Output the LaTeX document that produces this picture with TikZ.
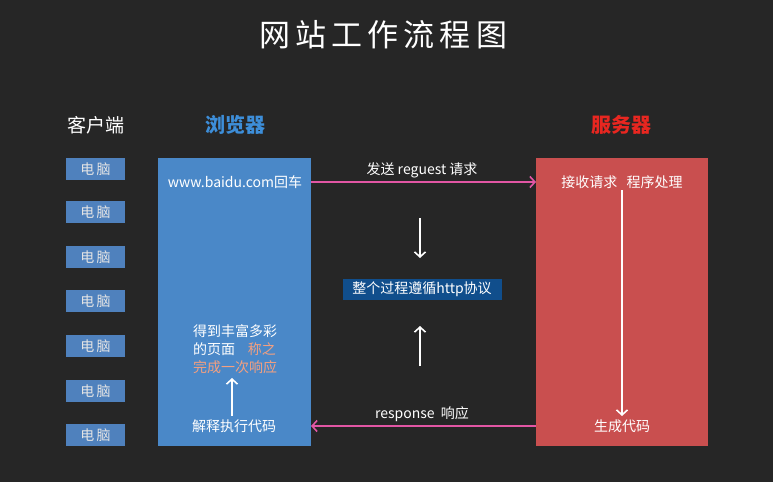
\documentclass[tikz,border=0pt]{standalone}
\usepackage{fontspec}
\setmainfont{Noto Sans CJK SC}
\newfontfamily\cjk{Noto Sans CJK SC}
\usetikzlibrary{arrows.meta}
\definecolor{bg}{RGB}{38,38,38}
\definecolor{pcblue}{RGB}{79,129,189}
\definecolor{brblue}{RGB}{74,136,200}
\definecolor{svred}{RGB}{201,79,79}
\definecolor{hdblue}{RGB}{61,142,217}
\definecolor{hdred}{RGB}{232,38,32}
\definecolor{pinkarr}{RGB}{226,86,164}
\definecolor{httpbox}{RGB}{16,78,140}
\definecolor{salmon}{RGB}{244,160,128}
\tikzset{
  pcbox/.style={fill=pcblue, text=white!90!black, minimum width=59pt, minimum height=22pt, inner sep=0pt, font=\cjk\fontsize{14}{14}\selectfont},
  body/.style={text=white, inner sep=0pt, font=\cjk\fontsize{14}{17}\selectfont},
  hdr/.style={inner sep=0pt, font=\cjk\bfseries\fontsize{20}{20}\selectfont},
  pinkarrow/.style={draw=pinkarr, line width=1.6pt, -{Straight Barb[length=5pt,width=11pt]}},
  whitearrow/.style={draw=white, line width=1.6pt, -{Straight Barb[length=5pt,width=11pt]}},
}
\begin{document}
\begin{tikzpicture}[x=1pt,y=-1pt]
\fill[bg] (0,0) rectangle (773,482);
\useasboundingbox (0,0) rectangle (773,482);
\node[text=white, inner sep=0pt, font=\cjk\fontsize{31}{31}\selectfont] (title) at (383,35) {网\,站\,工\,作\,流\,程\,图};
\node[inner sep=0pt, text=white, font=\cjk\fontsize{19}{19}\selectfont] (client) at (96,125) {客户端};
\node[hdr, text=hdblue] (browserh) at (235,125) {浏览器};
\node[hdr, text=hdred] (serverh) at (621,125) {服务器};
\foreach \i/\yy in {1/169,2/212,3/257,4/301,5/346,6/391,7/435}{
  \node[pcbox] (pc\i) at (95.5,\yy) {电\,脑};
}
\fill[brblue] (158,158) rectangle (311,446);
\coordinate (brL) at (311,182);
\coordinate (brR) at (311,426);
\fill[svred] (536,158) rectangle (708,446);
\coordinate (svL) at (536,182);
\coordinate (svR) at (536,426);
\node[body] (url) at (235,182) {www.baidu.com回车};
\draw[pinkarrow] (brL) -- (svL);
\node[body] (send) at (422,170) {发送 reguest 请求};
\node[body, fill=httpbox, minimum width=159pt, minimum height=21pt] (http) at (422,289) {整个过程遵循http协议};
\coordinate (dtop) at (420,218);
\coordinate (dbot) at (420,258);
\coordinate (ubot) at (420,366);
\coordinate (utop) at (420,326);
\draw[whitearrow] (dtop) -- (dbot);
\draw[whitearrow] (ubot) -- (utop);
\draw[pinkarrow] (svR) -- (brR);
\node[body] (resp) at (422,414) {response\ \ 响应};
\node[body] (recv) at (622,182) {接收请求\ \ \ 程序处理};
\node[body] (gen) at (622,426) {生成代码};
\coordinate (gtop) at (622,190);
\coordinate (gbot) at (622,416);
\draw[whitearrow] (gtop) -- (gbot);
\node[body, anchor=west] (l1) at (193,331) {得到丰富多彩};
\node[body, anchor=west] (l2) at (193,349) {的页面\hspace{0.9em}\textcolor{salmon}{称之}};
\node[body, anchor=west, text=salmon] (l3) at (193,367) {完成一次响应};
\node[body] (exec) at (234,426) {解释执行代码};
\coordinate (etop) at (232,378);
\coordinate (ebot) at (232,416);
\draw[whitearrow] (ebot) -- (etop);
\end{tikzpicture}
\end{document}
